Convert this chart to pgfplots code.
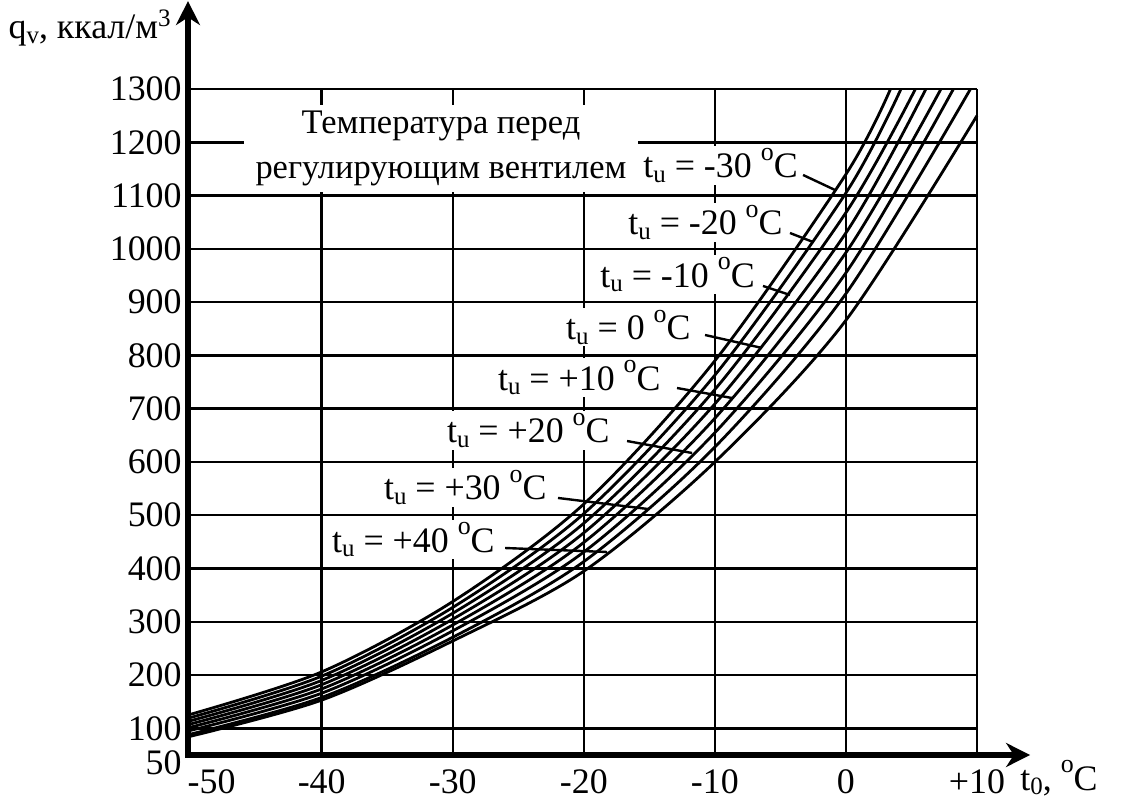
\documentclass[border=0pt]{standalone}
\usepackage{fontspec}
\setmainfont{Liberation Serif}
\usepackage{pgfplots}
\pgfplotsset{compat=1.18}
\usetikzlibrary{arrows.meta}
\newcommand{\sub}[1]{\raisebox{-0.12em}{\fontsize{12.5}{12.5}\selectfont #1}}
\newcommand{\dg}{\raisebox{0.5em}{\fontsize{13}{13}\selectfont o}}
\begin{document}
\begin{tikzpicture}[font=\fontsize{18}{21}\selectfont]
\useasboundingbox (-94bp,-22.5bp) rectangle (470.5bp,377.5bp);
\begin{axis}[
  at={(0,0)}, anchor=south west,
  scale only axis, width=394.5bp, height=333bp,
  xmin=-50.2, xmax=10, ymin=50, ymax=1300,
  axis line style={draw=none},
  xtick={-40,-30,-20,-10,0,10},
  xticklabels={-40,-30,-20,-10,0,+10},
  ytick={100,200,...,1300},
  extra x ticks={-48.4}, extra x tick labels={-50},
  extra y ticks={50}, extra y tick labels={50},
  extra y tick style={grid=none, yticklabel style={yshift=-4bp}},
  extra x tick style={grid=none},
  major tick length=0pt,
  grid=major,
  major grid style={black, line width=1.25bp},
  yticklabel style={inner sep=0pt, xshift=-3bp},
  xticklabel style={inner sep=0pt, yshift=-7bp},
  /pgf/number format/assume math mode=true,
  /pgf/number format/1000 sep={},
  clip=false,
]
% tu = -30
\addplot[black, line width=1.4bp, smooth] coordinates {(-50.2,125) (-40,206) (-30,338) (-20,521) (-10,790) (0,1140) (3.4,1300)};
% tu = -20
\addplot[black, line width=1.4bp, smooth] coordinates {(-50.2,119) (-40,198) (-30,327) (-20,503) (-10,763) (0,1105) (4.2,1300)};
% tu = -10
\addplot[black, line width=1.4bp, smooth] coordinates {(-50.2,113) (-40,190) (-30,316) (-20,485) (-10,736) (0,1068) (5.3,1300)};
% tu = 0
\addplot[black, line width=1.4bp, smooth] coordinates {(-50.2,107) (-40,182) (-30,305) (-20,467) (-10,709) (0,1030) (6.1,1300)};
% tu = +10
\addplot[black, line width=1.4bp, smooth] coordinates {(-50.2,101) (-40,174) (-30,294) (-20,449) (-10,682) (0,993) (7.25,1300)};
% tu = +20
\addplot[black, line width=1.4bp, smooth] coordinates {(-50.2,95) (-40,166) (-30,283) (-20,431) (-10,655) (0,955) (8.2,1300)};
% tu = +30
\addplot[black, line width=1.4bp, smooth] coordinates {(-50.2,88) (-40,158) (-30,271) (-20,413) (-10,628) (0,916) (9.5,1300)};
% tu = +40
\addplot[black, line width=1.4bp, smooth] coordinates {(-50.2,84) (-40,153) (-30,264) (-20,395) (-10,600) (0,866) (10,1250)};

% axes with arrows
\draw[line width=3bp, {Stealth[length=12bp,width=12bp]}-{Stealth[length=12bp,width=12bp]}]
  (axis cs:-50.2,1465) -- (axis cs:-50.2,50) -- (axis cs:14.05,50);

% title block
\node[align=center, fill=white, inner xsep=6bp, inner ysep=3bp, font=\fontsize{17.3}{22.5}\selectfont]
  at (axis cs:-30.9,1189) {Температура перед\\регулирующим вентилем};

% curve labels
\node[anchor=base east, fill=white, inner sep=1bp] at (axis cs:-3.5,1133) {t\sub{u} = -30 \dg C};
\node[anchor=base east, fill=white, inner sep=1bp] at (axis cs:-4.65,1026) {t\sub{u} = -20 \dg C};
\node[anchor=base east, fill=white, inner sep=1bp] at (axis cs:-6.78,928) {t\sub{u} = -10 \dg C};
\node[anchor=base east, fill=white, inner sep=1bp] at (axis cs:-11.67,829) {t\sub{u} = 0 \dg C};
\node[anchor=base east, fill=white, inner sep=1bp] at (axis cs:-13.96,735) {t\sub{u} = +10 \dg C};
\node[anchor=base east, fill=white, inner sep=1bp] at (axis cs:-17.85,635.6) {t\sub{u} = +20 \dg C};
\node[anchor=base east, fill=white, inner sep=1bp] at (axis cs:-22.66,528.6) {t\sub{u} = +30 \dg C};
\node[anchor=base east, fill=white, inner sep=1bp] at (axis cs:-26.62,431) {t\sub{u} = +40 \dg C};

% leader lines
\draw[line width=1.2bp] (axis cs:-3.27,1138.6) -- (axis cs:-0.83,1110.4);
\draw[line width=1.2bp] (axis cs:-4.27,1029.7) -- (axis cs:-2.51,1012.8);
\draw[line width=1.2bp] (axis cs:-6.33,930.3) -- (axis cs:-4.27,913.4);
\draw[line width=1.2bp] (axis cs:-10.75,838.3) -- (axis cs:-6.40,813.9);
\draw[line width=1.2bp] (axis cs:-12.89,738.8) -- (axis cs:-8.69,720);
\draw[line width=1.2bp] (axis cs:-16.70,639.3) -- (axis cs:-11.74,616.8);
\draw[line width=1.2bp] (axis cs:-21.97,532.4) -- (axis cs:-15.10,511.7);
\draw[line width=1.2bp] (axis cs:-26.01,438.5) -- (axis cs:-18.23,431);

% axis titles
\node[anchor=base east, inner sep=0pt] at (axis cs:-51.42,1393.9) {q\sub{v}, ккал/м\textsuperscript{3}};
\node[anchor=base west, inner sep=0pt] at (axis cs:13.28,-15.7) {t\sub{0}, \dg C};
\end{axis}
\end{tikzpicture}
\end{document}
